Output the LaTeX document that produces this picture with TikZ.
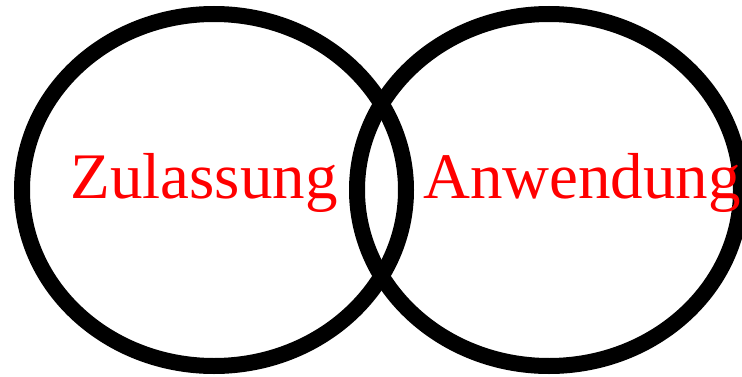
\documentclass[tikz,border=0pt]{standalone}
\usepackage{xcolor}
\usepackage{fontspec}
\setmainfont{Liberation Serif}
\usetikzlibrary{positioning, shapes.geometric}

\begin{document}
\begin{tikzpicture}[
    x=1pt, y=1pt,
    ring/.style={ellipse, draw, line width=16pt, minimum width=384pt, minimum height=352pt, inner sep=0pt},
    label/.style={anchor=base, text=red, inner sep=0pt, font=\fontsize{65}{78}\selectfont}
]
\useasboundingbox (0,0) rectangle (742,376);

\node[ring] (left) at (214,186) {};
\node[ring] (right) at (549,186) {};

\node[label] (zul) at (204,178) {Zulassung};
\node[label] (anw) at (582,178) {Anwendung};

\end{tikzpicture}
\end{document}
